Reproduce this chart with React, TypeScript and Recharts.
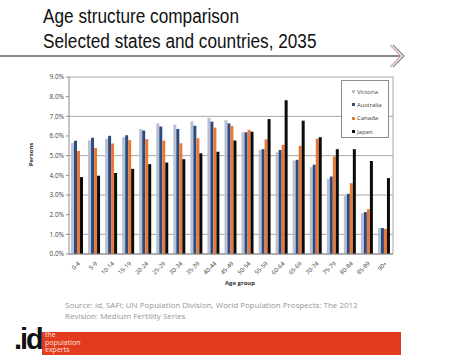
import React from 'react';
import { BarChart, Bar, XAxis, YAxis, CartesianGrid, Legend } from 'recharts';

// Share of population (%) by age group, 2035
const ages = ['0-4', '5-9', '10-14', '15-19', '20-24', '25-29', '30-34', '35-39', '40-44', '45-49', '50-54', '55-59', '60-64', '65-69', '70-74', '75-79', '80-84', '85-89', '90+'];
const victoria = [5.65, 5.78, 5.86, 5.94, 6.36, 6.64, 6.58, 6.74, 6.92, 6.8, 6.19, 5.29, 5.17, 4.75, 4.42, 3.82, 2.96, 2.07, 1.31];
const australia = [5.76, 5.91, 6.01, 6.04, 6.28, 6.48, 6.36, 6.52, 6.73, 6.64, 6.19, 5.33, 5.29, 4.79, 4.54, 3.94, 3.06, 2.13, 1.32];
const canada = [5.24, 5.39, 5.62, 5.79, 5.84, 5.77, 5.63, 5.89, 6.43, 6.51, 6.31, 5.83, 5.55, 5.5, 5.86, 4.96, 3.6, 2.28, 1.28];
const japan = [3.91, 3.98, 4.12, 4.33, 4.57, 4.65, 4.82, 5.12, 5.2, 5.77, 6.22, 6.86, 7.82, 6.78, 5.94, 5.33, 5.33, 4.73, 3.86];
const yTicks = [0, 1, 2, 3, 4, 5, 6, 7, 8, 9];

const series = [
    { key: 'victoria', name: 'Victoria', color: '#b7c1d3' },
    { key: 'australia', name: 'Australia', color: '#2d4b7c' },
    { key: 'canada', name: 'Canada', color: '#e8793b' },
    { key: 'japan', name: 'Japan', color: '#0b0b0b' },
];

const data = ages.map((age, i) => ({
    age,
    victoria: victoria[i],
    australia: australia[i],
    canada: canada[i],
    japan: japan[i],
}));

const tickFont = '"Open Sans", "DejaVu Sans", sans-serif';

const AgeTick = (props: any) => {
    const { x, y, payload } = props;
    const ax = x + 3;
    const ay = y + 2;
    return (
        <text x={ax} y={ay} transform={`rotate(-45 ${ax} ${ay})`} textAnchor="end" fontSize={6} fill="#404040" fontFamily={tickFont}>
            {payload.value}
        </text>
    );
};

// legend keeps the series order (Victoria first), like the original
const LegendBox = () => (
    <div style={{ width: 46, height: 52, border: '1px solid #8c8c8c', background: '#fff', paddingTop: 4, boxSizing: 'content-box' }}>
        {series.map((s) => (
            <div key={s.key} style={{ display: 'flex', alignItems: 'center', height: 13.3, paddingLeft: 10, fontSize: 6, fontFamily: tickFont, color: '#404040' }}>
                <span style={{ width: 3, height: 3, background: s.color, marginRight: 2 }} />
                {s.name}
            </div>
        ))}
    </div>
);

const App: React.FC = () => {
    return (
        <div style={{ position: 'absolute', left: 0, top: 0, width: 474, height: 355, background: '#fff', overflow: 'hidden', fontFamily: '"Liberation Sans", Arial, sans-serif' }}>
            <div style={{ position: 'absolute', left: 43, top: 4, fontSize: 20, lineHeight: '25px', color: '#111', whiteSpace: 'nowrap', transform: 'scaleX(0.86)', transformOrigin: 'left top' }}>
                Age structure comparison<br />Selected states and countries, 2035
            </div>
            <svg width={474} height={70} style={{ position: 'absolute', left: 0, top: 0 }}>
                <line x1={0} y1={56} x2={400} y2={56} stroke="#8a8a8a" strokeWidth={2} />
                <polyline points="390,45 401,56 390,67" fill="none" stroke="#d9a3a3" strokeWidth={1.2} />
                <polyline points="393,45 404,56 393,67" fill="none" stroke="#8a8a8a" strokeWidth={1.2} />
            </svg>

            <BarChart
                width={474}
                height={355}
                data={data}
                margin={{ top: 77, right: 81, left: 0, bottom: 61 }}
                barCategoryGap={2}
                barGap={0}
                style={{ position: 'absolute', left: 0, top: 0 }}
            >
                <CartesianGrid
                    stroke="#a6a6a6"
                    vertical={true}
                    verticalCoordinatesGenerator={(p: any) => (p && p.offset ? [p.offset.left + p.offset.width] : [])}
                />
                <XAxis
                    dataKey="age"
                    interval={0}
                    height={40}
                    tick={<AgeTick />}
                    tickLine={false}
                    axisLine={{ stroke: '#8c8c8c' }}
                    label={{ value: 'Age group', position: 'insideBottom', offset: 9, dx: 9, fontSize: 6, fontWeight: 'bold', fill: '#333', fontFamily: tickFont }}
                />
                <YAxis
                    width={69}
                    domain={[0, 9]}
                    ticks={yTicks}
                    tickFormatter={(v: number) => `${v.toFixed(1)}%`}
                    tick={{ fontSize: 6.5, fill: '#404040', fontFamily: tickFont }}
                    tickSize={3}
                    tickMargin={2}
                    tickLine={{ stroke: '#8c8c8c' }}
                    axisLine={{ stroke: '#8c8c8c' }}
                    label={{ value: 'Persons', angle: -90, position: 'insideLeft', offset: 31, dy: -11, fontSize: 6, fontWeight: 'bold', fill: '#333', fontFamily: tickFont, textAnchor: 'middle' }}
                />
                <Legend
                    layout="vertical"
                    align="center"
                    verticalAlign="middle"
                    content={<LegendBox />}
                    wrapperStyle={{ left: 341, top: 80, width: 48, height: 58 }}
                />
                {series.map((s) => (
                    <Bar key={s.key} dataKey={s.key} name={s.name} fill={s.color} isAnimationActive={false} />
                ))}
            </BarChart>

            <div style={{ position: 'absolute', left: 65, top: 299, fontSize: 8, lineHeight: '11px', color: '#959595', fontFamily: tickFont, whiteSpace: 'nowrap' }}>
                Source: id, SAFi; UN Population Division, World Population Prospects: The 2012<br />Revision: Medium Fertility Series
            </div>

            <div style={{ position: 'absolute', left: 42, top: 332, width: 359, height: 23, background: '#e23b1f' }} />
            <div style={{ position: 'absolute', left: 14, top: 325, fontSize: 29, fontWeight: 'bold', color: '#111', letterSpacing: -2, lineHeight: '29px' }}>.id</div>
            <div style={{ position: 'absolute', left: 45, top: 331, fontSize: 7, lineHeight: '7.5px', color: '#fbe3dd', fontFamily: tickFont }}>
                the<br />population<br />experts
            </div>
        </div>
    );
};

export default App;
